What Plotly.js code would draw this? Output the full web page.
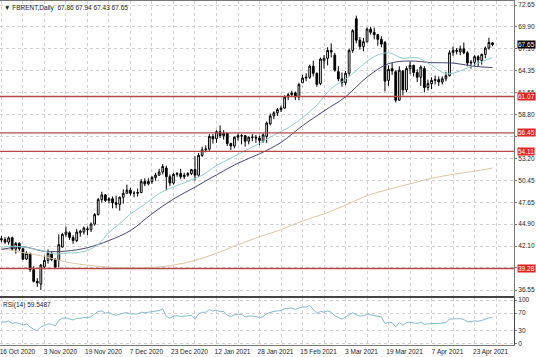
<!DOCTYPE html>
<html><head><meta charset="utf-8">
<script src="https://cdn.plot.ly/plotly-3.0.1.min.js"></script>
<style>html,body{margin:0;padding:0;background:#fff}#chart{width:536px;height:357px}</style>
</head><body><div id="chart"></div>
<script>
const dates = ['2020-10-16','2020-10-19','2020-10-20','2020-10-21','2020-10-22','2020-10-23','2020-10-26','2020-10-27','2020-10-28','2020-10-29','2020-10-30',
'2020-11-02','2020-11-03','2020-11-04','2020-11-05','2020-11-06','2020-11-09','2020-11-10','2020-11-11','2020-11-12','2020-11-13',
'2020-11-16','2020-11-17','2020-11-18','2020-11-19','2020-11-20','2020-11-23','2020-11-24','2020-11-25','2020-11-26','2020-11-27',
'2020-11-30','2020-12-01','2020-12-02','2020-12-03','2020-12-04','2020-12-07','2020-12-08','2020-12-09','2020-12-10','2020-12-11',
'2020-12-14','2020-12-15','2020-12-16','2020-12-17','2020-12-18','2020-12-21','2020-12-22','2020-12-23','2020-12-24','2020-12-28',
'2020-12-29','2020-12-30','2020-12-31','2021-01-04','2021-01-05','2021-01-06','2021-01-07','2021-01-08','2021-01-11','2021-01-12',
'2021-01-13','2021-01-14','2021-01-15','2021-01-18','2021-01-19','2021-01-20','2021-01-21','2021-01-22','2021-01-25','2021-01-26',
'2021-01-27','2021-01-28','2021-01-29','2021-02-01','2021-02-02','2021-02-03','2021-02-04','2021-02-05','2021-02-08','2021-02-09',
'2021-02-10','2021-02-11','2021-02-12','2021-02-15','2021-02-16','2021-02-17','2021-02-18','2021-02-19','2021-02-22','2021-02-23',
'2021-02-24','2021-02-25','2021-02-26','2021-03-01','2021-03-02','2021-03-03','2021-03-04','2021-03-05','2021-03-08','2021-03-09',
'2021-03-10','2021-03-11','2021-03-12','2021-03-15','2021-03-16','2021-03-17','2021-03-18','2021-03-19','2021-03-22','2021-03-23',
'2021-03-24','2021-03-25','2021-03-26','2021-03-29','2021-03-30','2021-03-31','2021-04-01','2021-04-05','2021-04-06','2021-04-07',
'2021-04-08','2021-04-09','2021-04-12','2021-04-13','2021-04-14','2021-04-15','2021-04-16','2021-04-19','2021-04-20','2021-04-21',
'2021-04-22','2021-04-23','2021-04-26','2021-04-27','2021-04-28','2021-04-29','2021-04-30'];

const openP = [43.05,42.93,42.62,43.16,41.73,42.46,41.77,40.46,41.20,39.12,37.65,
37.30,39.50,40.30,41.10,40.40,40.30,42.00,43.60,43.80,43.20,
42.80,43.80,43.90,44.30,44.20,44.90,46.10,48.00,48.60,47.90,
48.10,47.60,47.40,48.30,48.80,49.20,48.80,48.80,48.90,50.30,
50.00,50.30,50.80,51.10,51.50,52.00,50.90,50.10,51.20,51.30,
50.90,51.10,51.30,51.80,51.10,53.60,54.30,54.40,56.00,55.70,
56.60,56.10,56.40,55.10,54.80,55.90,56.10,56.10,55.40,55.90,
55.90,55.80,55.40,56.00,57.60,58.60,59.00,59.40,59.60,61.00,
61.30,61.50,61.00,62.80,63.40,63.50,64.90,64.00,62.70,65.60,
65.90,66.90,66.30,64.20,63.30,62.80,64.00,66.90,70.90,68.20,
67.40,68.00,69.60,69.20,68.90,68.30,67.90,63.10,64.60,64.20,
60.60,64.30,61.90,64.60,65.00,64.10,63.50,64.60,62.20,62.70,
63.10,63.20,62.90,63.30,63.70,66.60,66.90,66.70,67.10,66.60,
65.30,65.40,66.10,65.60,66.40,67.20,67.86];
const highP = [43.40,43.25,43.35,43.30,42.65,42.60,41.85,41.45,41.25,39.55,38.05,
39.85,40.90,41.70,41.40,40.60,43.60,43.80,44.60,44.00,43.50,
44.30,44.20,44.60,44.60,45.10,46.30,48.20,49.00,48.70,48.30,
48.40,48.50,48.40,49.30,49.90,49.50,49.10,49.40,50.60,50.70,
50.70,51.00,51.40,51.90,52.50,52.30,51.20,51.40,51.50,51.90,
51.40,51.50,51.90,53.50,53.90,54.70,54.90,56.30,56.30,56.80,
57.40,56.80,56.50,55.20,56.00,56.40,56.30,56.20,56.00,56.30,
56.20,56.10,56.40,57.90,58.90,59.20,59.60,59.90,61.20,61.50,
61.80,61.70,62.80,63.80,64.00,65.10,65.60,64.10,66.00,66.30,
67.30,67.80,66.60,64.90,64.10,64.30,67.10,69.60,71.30,68.60,
68.50,69.80,69.90,69.80,69.00,68.70,68.10,65.00,65.30,64.40,
64.90,64.40,64.90,65.50,65.10,64.50,65.00,64.90,63.20,63.50,
63.70,63.60,63.60,64.20,66.90,67.40,67.20,67.50,67.90,66.80,
65.70,66.30,66.30,66.50,67.40,68.50,67.94];
const lowP = [42.60,42.40,42.30,41.60,41.15,41.50,40.40,40.35,38.85,37.50,36.95,
36.55,39.20,39.90,40.20,39.30,39.40,41.90,43.30,42.90,42.40,
42.60,43.30,43.60,43.50,43.90,44.70,46.00,47.60,47.70,47.50,
46.90,46.90,46.60,47.50,48.70,48.50,48.30,48.40,48.80,49.70,
49.80,50.00,50.40,51.00,51.20,49.20,49.70,49.90,50.90,50.60,
50.60,50.90,51.10,50.40,50.90,53.40,54.00,54.20,55.10,55.20,
55.80,55.60,54.80,54.30,54.50,55.50,55.00,54.70,55.00,55.40,
55.20,54.90,55.20,55.20,57.40,58.20,58.60,59.10,59.50,60.60,
61.00,60.60,60.60,62.80,63.00,63.30,63.60,62.30,62.50,64.60,
65.00,66.00,64.20,63.00,62.30,62.50,63.60,66.60,67.80,67.00,
66.80,67.90,68.90,68.30,67.50,67.30,61.70,62.40,63.80,60.30,
60.50,61.20,61.60,63.90,63.60,62.90,62.40,61.60,61.80,62.00,
62.60,62.40,62.60,63.00,63.60,66.20,66.40,66.30,66.40,64.90,
64.60,64.90,64.80,65.10,65.90,67.00,67.43];
const closeP = [42.93,42.62,43.16,41.73,42.46,41.77,40.46,41.20,39.12,37.65,37.46,
39.71,40.30,41.20,40.40,39.45,42.30,43.60,43.90,43.20,42.80,
43.90,44.00,44.40,44.20,44.90,46.10,48.00,48.60,47.90,48.10,
47.60,47.40,48.30,48.80,49.20,48.80,48.80,48.90,50.30,50.00,
50.30,50.80,51.10,51.50,52.20,50.90,50.10,51.20,51.30,50.90,
51.10,51.30,51.80,51.10,53.60,54.30,54.40,56.00,55.70,56.60,
56.10,56.40,55.10,54.80,55.90,56.10,56.10,55.40,55.90,55.90,
55.80,55.50,56.20,57.70,58.60,59.00,59.40,59.60,61.00,61.30,
61.50,61.00,62.60,63.40,63.50,64.90,64.00,62.60,65.80,65.90,
66.90,66.70,64.40,63.30,62.80,64.00,66.90,69.40,68.20,67.40,
68.00,69.60,69.20,68.90,68.30,67.70,63.00,64.50,64.30,60.60,
64.40,61.90,64.60,65.00,64.10,63.50,64.80,62.20,62.70,63.10,
63.20,62.90,63.30,63.70,66.60,66.90,66.80,67.10,66.60,65.30,
65.40,66.10,65.70,66.40,67.20,67.90,67.65];

// Moving averages (light = fast, dark = medium, tan = slow)
const maFastDates = ['2020-10-16','2020-10-21','2020-10-26','2020-10-29','2020-11-03','2020-11-06','2020-11-11','2020-11-16','2020-11-19','2020-11-24','2020-11-27','2020-12-02','2020-12-07','2020-12-11','2020-12-17','2020-12-23','2020-12-30','2021-01-06','2021-01-12','2021-01-18','2021-01-22','2021-01-28','2021-02-03','2021-02-09','2021-02-15','2021-02-19','2021-02-25','2021-03-03','2021-03-09','2021-03-15','2021-03-19','2021-03-25','2021-03-31','2021-04-07','2021-04-13','2021-04-19','2021-04-23','2021-04-30'];
const maFastVals = [41.96,42.08,42.00,41.76,41.47,41.11,41.23,41.29,41.55,42.33,43.85,44.95,46.19,47.41,48.77,49.61,50.29,51.08,52.31,53.25,54.20,55.13,56.16,57.09,58.40,59.97,62.08,63.23,64.76,66.12,66.60,65.90,65.98,65.02,63.95,64.30,65.10,66.00];
const maMidDates = ['2020-10-16','2020-10-26','2020-11-03','2020-11-11','2020-11-19','2020-11-27','2020-12-07','2020-12-15','2020-12-23','2021-01-04','2021-01-12','2021-01-20','2021-01-28','2021-02-05','2021-02-15','2021-02-23','2021-03-03','2021-03-11','2021-03-19','2021-03-29','2021-04-07','2021-04-15','2021-04-23','2021-04-30'];
const maMidVals = [41.68,42.02,41.45,41.48,41.91,42.82,44.08,46.21,48.08,49.58,51.14,52.62,53.80,55.25,57.36,59.23,61.02,63.52,65.22,65.56,65.35,65.30,64.89,64.72];
const maSlowDates = ['2020-10-16','2020-10-26','2020-11-03','2020-11-11','2020-11-19','2020-11-27','2020-12-07','2020-12-15','2020-12-23','2021-01-04','2021-01-12','2021-01-20','2021-01-28','2021-02-05','2021-02-15','2021-02-23','2021-03-03','2021-03-11','2021-03-19','2021-03-29','2021-04-07','2021-04-15','2021-04-23','2021-04-30'];
const maSlowVals = [41.8,41.3,40.8,40.1,39.7,39.45,39.35,39.4,39.7,40.3,41.2,42.3,43.3,44.2,45.3,46.2,47.3,48.5,49.3,50.0,50.7,51.2,51.6,52.0];

const rsiVals = [50,49,52,46,48,46,42,45,38,32,29,
38,41,45,44,40,53,58,59,56,54,
58,58,60,59,62,67,74,75,70,71,
67,65,68,70,71,68,68,68,72,71,
72,73,74,76,80,62,58,63,64,62,
63,64,65,56,68,72,72,78,75,77,
73,74,65,62,66,67,67,61,63,63,
62,59,62,69,72,74,75,76,80,81,
82,78,82,84,84,88,78,69,74,72,
75,72,64,60,56,61,66,71,66,63,
64,67,66,64,63,61,46,49,48,38,
48,42,48,49,47,46,49,44,45,46,
46,46,47,48,56,57,57,57,55,50,
50,52,51,53,56,59,59.55];

const priceTicks = [72.65,69.90,67.10,64.35,61.55,58.80,56.00,53.20,50.45,47.65,44.90,42.10,39.35,36.55];
const coveredTicks = [56.00,39.35];   // hidden behind level labels in the reference
const rsiTicks = [100,70,30,0];
const levelLines = [61.07,56.45,54.11,39.28];
const lastPrice = 67.65;
const tickDates = ['2020-10-16','2020-11-03','2020-11-19','2020-12-07','2020-12-23','2021-01-12','2021-01-28','2021-02-15','2021-03-03','2021-03-19','2021-04-07','2021-04-23'];
const tickLabels = ['16 Oct 2020','3 Nov 2020','19 Nov 2020','7 Dec 2020','23 Dec 2020','12 Jan 2021','28 Jan 2021','15 Feb 2021','3 Mar 2021','19 Mar 2021','7 Apr 2021','23 Apr 2021'];
const headerText = '\u25BC FBRENT,Daily  67.86 67.94 67.43 67.65';
const rsiText = 'RSI(14) 59.5487';

const pos = d => dates.indexOf(d);
const xs = dates.map((d) => pos(d));

// grid every half label step
const gridVals = [], gridText = [];
const step = pos(tickDates[1]) - pos(tickDates[0]);
for (let v = 0; v <= dates.length + 2; v += step / 2) {
  gridVals.push(v);
  const k = tickDates.findIndex(d => pos(d) === v);
  gridText.push(k >= 0 ? tickLabels[k] : '');
}

const FONT = 'Liberation Sans, Arial, sans-serif';
const gridC = '#cfcfcf';

const traces = [
  {type:'candlestick', x:xs, open:openP, high:highP, low:lowP, close:closeP,
   xaxis:'x', yaxis:'y',
   increasing:{line:{color:'#000', width:1}, fillcolor:'#ffffff'},
   decreasing:{line:{color:'#000', width:1}, fillcolor:'#000000'},
   whiskerwidth:0, hoverinfo:'skip'},
  {type:'scatter', mode:'lines', x:maSlowDates.map(pos), y:maSlowVals, xaxis:'x', yaxis:'y',
   line:{color:'#d9c6a8', width:1, shape:'spline'}, hoverinfo:'skip'},
  {type:'scatter', mode:'lines', x:maMidDates.map(pos), y:maMidVals, xaxis:'x', yaxis:'y',
   line:{color:'#45456e', width:1, shape:'spline'}, hoverinfo:'skip'},
  {type:'scatter', mode:'lines', x:maFastDates.map(pos), y:maFastVals, xaxis:'x', yaxis:'y',
   line:{color:'#94cccc', width:1, shape:'spline'}, hoverinfo:'skip'},
  {type:'scatter', mode:'lines', x:xs, y:rsiVals, xaxis:'x2', yaxis:'y2',
   line:{color:'#86b8ca', width:1}, hoverinfo:'skip'}
];

const shapes = levelLines.map(v => ({type:'line', xref:'paper', yref:'y', x0:0, x1:1, y0:v, y1:v,
  line:{color:'#b84848', width:1.4}, layer:'above'}));

const annotations = [
  {xref:'paper', yref:'paper', x:0.004, y:1, yanchor:'top', xanchor:'left', yshift:-1,
   text:headerText, showarrow:false, font:{family:FONT, size:6.5, color:'#222'}},
  {xref:'paper', yref:'paper', x:0.002, y:0.1366, yanchor:'top', xanchor:'left', yshift:-1,
   text:rsiText, showarrow:false, font:{family:FONT, size:6.5, color:'#222'}}
];
levelLines.forEach(v => annotations.push({xref:'paper', yref:'y', x:1, y:v, xanchor:'left', xshift:3,
  text:v.toFixed(2), showarrow:false, bgcolor:'#e3231e', borderpad:0,
  font:{family:FONT, size:6.5, color:'#fff'}}));
annotations.push({xref:'paper', yref:'y', x:1, y:lastPrice, xanchor:'left', xshift:3,
  text:lastPrice.toFixed(2), showarrow:false, bgcolor:'#000', borderpad:0,
  font:{family:FONT, size:6.5, color:'#fff'}});

const axisX = {type:'linear', range:[-0.4, 143.0], showgrid:true, gridcolor:gridC, griddash:'dot', gridwidth:1,
  tickmode:'array', tickvals:gridVals, zeroline:false, showline:true, mirror:true, linecolor:'#777', linewidth:1,
  fixedrange:true};

const layout = {
  width:536, height:357, margin:{l:0, r:22, t:1, b:12},
  paper_bgcolor:'#fff', plot_bgcolor:'#fff', showlegend:false, hovermode:false,
  font:{family:FONT, size:6.5, color:'#222'},
  xaxis:Object.assign({}, axisX, {anchor:'y', showticklabels:false, ticks:'', rangeslider:{visible:false}}),
  xaxis2:Object.assign({}, axisX, {anchor:'y2', matches:'x', ticktext:gridText, ticks:'', showticklabels:true,
    ticklabelshift:16, ticklabeloverflow:'allow', tickfont:{family:FONT, size:6.5, color:'#222'}}),
  yaxis:{domain:[0.1424, 1], range:[35.79, 73.16], side:'right', tickmode:'array', tickvals:priceTicks,
    ticktext:priceTicks.map(v => coveredTicks.includes(v) ? '' : v.toFixed(2)), showgrid:true, gridcolor:gridC, griddash:'dot',
    zeroline:false, showline:true, mirror:true, linecolor:'#777', ticks:'outside', ticklen:2, tickcolor:'#777',
    tickfont:{family:FONT, size:6.5, color:'#222'}, fixedrange:true},
  yaxis2:{domain:[0, 0.1366], range:[-4, 105], side:'right', tickmode:'array', tickvals:rsiTicks,
    ticktext:rsiTicks.map(String), showgrid:true, gridcolor:gridC, griddash:'dot',
    zeroline:false, showline:true, mirror:true, linecolor:'#444', linewidth:1, ticks:'outside', ticklen:2, tickcolor:'#777',
    tickfont:{family:FONT, size:6.5, color:'#222'}, fixedrange:true},
  shapes:shapes.concat([{type:'line', xref:'paper', yref:'paper', x0:0, x1:1, y0:0.1395, y1:0.1395,
    line:{color:'#444', width:2}}]),
  annotations:annotations
};

Plotly.newPlot('chart', traces, layout, {staticPlot:true, displayModeBar:false});
</script></body></html>
